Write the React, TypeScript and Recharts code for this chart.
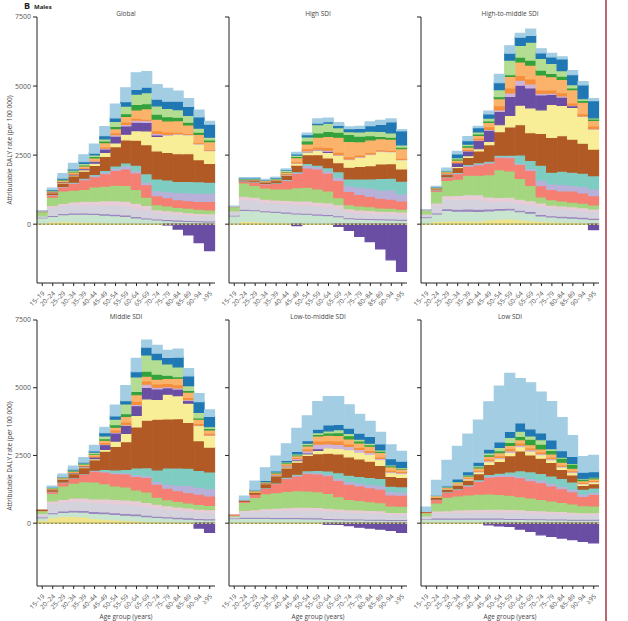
import React from 'react';
import { BarChart, Bar, XAxis, YAxis, ReferenceLine } from 'recharts';

const ageGroups = ['15–19', '20–24', '25–29', '30–34', '35–39', '40–44', '45–49', '50–54', '55–59', '60–64', '65–69', '70–74', '75–79', '80–84', '85–89', '90–94', '≥95'];

// stack order, bottom to top
const riskKeys = ['yellowLow', 'mint', 'violet', 'grey', 'pink', 'green', 'salmon', 'lavender', 'teal', 'brown', 'yellow', 'purple', 'lilac', 'orange', 'lightOrange', 'greenDark', 'lightGreen', 'blue', 'lightBlue'];
const riskColors = ['#efe48a', '#c8e5cf', '#9b86c0', '#d4d2dc', '#e8ccd6', '#a4d67f', '#f47f72', '#b7b0d9', '#7fcdc2', '#b15a25', '#f9ee98', '#6a4ea3', '#cfb3d8', '#f58f3a', '#fbb36b', '#33a23c', '#b3dd92', '#1f78b4', '#a3cde3'];

const yTicks = [0, 2500, 5000, 7500];

// one row per age group, one column per risk (riskKeys order)
const globalRates = [
  [30, 200, 20, 50, 0, 150, 10, 0, 0, 10, 0, 0, 0, 0, 0, 0, 0, 0, 10],
  [80, 200, 40, 300, 60, 300, 80, 10, 10, 60, 20, 10, 0, 10, 20, 10, 10, 30, 60],
  [90, 250, 50, 280, 80, 450, 150, 10, 10, 120, 20, 20, 0, 20, 40, 20, 20, 40, 160],
  [80, 280, 50, 300, 100, 420, 250, 20, 20, 230, 30, 30, 0, 30, 50, 30, 40, 40, 200],
  [70, 290, 50, 300, 120, 430, 350, 30, 30, 250, 50, 40, 10, 30, 60, 40, 50, 60, 250],
  [60, 290, 50, 300, 130, 520, 370, 40, 40, 330, 80, 60, 20, 30, 80, 50, 60, 60, 330],
  [50, 280, 50, 320, 150, 530, 450, 60, 60, 500, 150, 120, 30, 50, 150, 60, 80, 110, 330],
  [40, 270, 50, 330, 160, 560, 540, 80, 80, 700, 130, 250, 50, 70, 150, 80, 180, 130, 500],
  [35, 250, 50, 330, 170, 570, 600, 100, 110, 840, 200, 300, 60, 90, 200, 100, 270, 160, 500],
  [30, 200, 50, 300, 180, 500, 600, 80, 200, 900, 350, 300, 80, 70, 300, 200, 370, 170, 600],
  [20, 170, 40, 300, 150, 300, 450, 100, 300, 1050, 500, 300, 80, 40, 380, 180, 400, 200, 560],
  [15, 140, 40, 230, 100, 180, 330, 180, 420, 1020, 520, 60, 50, 100, 420, 180, 300, 240, 530],
  [10, 120, 40, 220, 100, 170, 300, 220, 420, 1000, 620, -30, 30, 90, 400, 150, 300, 260, 470],
  [10, 100, 40, 200, 100, 160, 280, 260, 400, 1000, 700, -180, 30, 50, 420, 120, 280, 300, 370],
  [10, 90, 40, 190, 90, 160, 270, 280, 420, 1000, 680, -390, 20, 40, 300, 100, 250, 320, 290],
  [10, 80, 40, 180, 80, 150, 280, 300, 420, 800, 560, -670, 20, 30, 300, 80, 150, 400, 250],
  [10, 70, 40, 180, 80, 140, 300, 300, 400, 680, 460, -960, 20, 30, 280, 60, 100, 470, 100],
];

const highSdiRates = [
  [40, 260, 30, 120, 30, 150, 10, 0, 0, 0, 0, 0, 0, 0, 0, 0, 0, 0, 10],
  [100, 400, 40, 350, 120, 480, 60, 10, 10, 20, 10, 10, 0, 10, 10, 10, 10, 20, 10],
  [90, 400, 40, 330, 120, 420, 120, 10, 10, 40, 10, 10, 0, 10, 20, 10, 10, 20, 10],
  [70, 380, 40, 300, 120, 400, 150, 10, 10, 50, 10, 10, 0, 10, 20, 10, 10, 10, 10],
  [60, 370, 40, 290, 120, 400, 200, 10, 10, 80, 10, 10, 0, 10, 20, 10, 20, 20, 20],
  [50, 350, 40, 300, 120, 420, 300, 20, 20, 150, 20, 20, 0, 20, 60, 20, 40, 20, 30],
  [40, 330, 40, 300, 130, 480, 520, 30, 30, 240, 60, -50, 20, 40, 150, 40, 50, 40, 60],
  [40, 320, 40, 300, 140, 500, 700, 100, 60, 320, 100, 10, 30, 70, 180, 100, 150, 80, 60],
  [30, 300, 40, 280, 150, 480, 720, 80, 60, 380, 150, 10, 40, 80, 350, 150, 300, 60, 150],
  [30, 280, 40, 280, 150, 420, 650, 80, 120, 350, 200, 40, 40, 100, 400, 180, 300, 50, 130],
  [20, 250, 40, 260, 140, 250, 620, 120, 200, 330, 260, -80, 30, 90, 540, 180, 160, 90, 100],
  [20, 180, 40, 200, 120, 150, 480, 200, 250, 420, 280, -230, 20, 80, 560, 250, 100, 110, 60],
  [20, 160, 40, 190, 110, 140, 420, 260, 300, 450, 330, -440, 20, 70, 480, 200, 150, 130, 70],
  [20, 150, 40, 180, 110, 130, 380, 300, 330, 480, 400, -630, 20, 60, 450, 150, 170, 200, 130],
  [20, 140, 40, 170, 100, 120, 350, 300, 420, 520, 450, -900, 20, 50, 400, 80, 180, 250, 150],
  [20, 130, 40, 170, 100, 120, 330, 330, 430, 520, 430, -1290, 20, 40, 400, 70, 150, 400, 110],
  [20, 120, 40, 160, 100, 100, 300, 260, 460, 440, 330, -1710, 20, 40, 340, 60, 80, 510, 40],
];

const highMiddleSdiRates = [
  [40, 200, 30, 80, 20, 130, 10, 0, 0, 0, 0, 0, 0, 0, 0, 0, 0, 0, 10],
  [100, 270, 40, 280, 80, 420, 40, 10, 10, 30, 10, 10, 0, 10, 10, 10, 10, 10, 20],
  [120, 380, 60, 350, 120, 550, 120, 10, 10, 80, 20, 20, 0, 20, 40, 10, 20, 20, 80],
  [120, 350, 70, 350, 150, 590, 200, 20, 20, 180, 40, 130, 0, 40, 60, 40, 50, 130, 100],
  [120, 350, 80, 350, 170, 700, 330, 30, 30, 260, 60, 170, 10, 50, 80, 50, 60, 120, 150],
  [110, 350, 80, 350, 180, 700, 380, 40, 40, 420, 80, 300, 20, 60, 100, 60, 70, 150, 50],
  [150, 330, 70, 280, 160, 800, 420, 30, 40, 600, 120, 400, 30, 100, 150, 60, 100, 150, 100],
  [180, 330, 60, 250, 150, 1000, 450, 30, 50, 850, 250, 480, 60, 150, 250, 80, 250, 250, 300],
  [190, 330, 60, 250, 150, 950, 480, 30, 60, 1020, 420, 690, 120, 180, 420, 60, 530, 250, 270],
  [150, 300, 60, 250, 150, 750, 500, 50, 300, 1090, 710, 720, 180, 180, 480, 180, 420, 300, 140],
  [120, 280, 60, 250, 140, 550, 550, 60, 300, 1000, 900, 720, 150, 180, 500, 180, 650, 240, 230],
  [100, 200, 50, 300, 120, 220, 400, 200, 550, 1150, 850, 540, 60, 120, 540, 180, 420, 200, 150],
  [80, 180, 50, 280, 100, 200, 370, 200, 420, 1260, 1200, 360, 40, 120, 480, 120, 360, 240, 120],
  [70, 170, 50, 270, 100, 180, 360, 240, 480, 1280, 1100, 300, 40, 120, 480, 120, 200, 420, 80],
  [60, 160, 50, 260, 100, 170, 400, 200, 480, 1200, 1150, 60, 20, 80, 480, 60, 120, 360, 150],
  [50, 150, 50, 250, 100, 160, 370, 240, 480, 1080, 970, 0, 20, 80, 420, 60, 60, 500, 120],
  [40, 130, 50, 240, 90, 150, 330, 250, 480, 960, 720, -200, 20, 100, 200, 50, 40, 620, 80],
];

const middleSdiRates = [
  [100, 100, 30, 100, 30, 100, 10, 0, 0, 10, 0, 0, 0, 0, 0, 0, 0, 0, 0],
  [200, 150, 40, 350, 80, 280, 60, 10, 10, 60, 10, 10, 0, 10, 20, 10, 20, 10, 40],
  [250, 150, 50, 330, 100, 500, 120, 10, 10, 100, 20, 10, 0, 10, 20, 10, 20, 20, 80],
  [250, 170, 60, 330, 120, 550, 180, 10, 10, 150, 20, 20, 0, 20, 30, 20, 20, 30, 120],
  [230, 180, 60, 330, 130, 600, 280, 10, 10, 220, 30, 30, 0, 20, 40, 20, 30, 30, 170],
  [180, 180, 70, 330, 140, 620, 400, 20, 20, 380, 40, 60, 0, 40, 60, 30, 50, 50, 200],
  [150, 200, 70, 330, 150, 560, 430, 30, 60, 680, 60, 180, 20, 60, 80, 60, 100, 120, 200],
  [120, 200, 70, 330, 160, 500, 450, 40, 100, 860, 200, 300, 30, 80, 100, 100, 200, 120, 400],
  [100, 200, 60, 340, 160, 480, 480, 40, 120, 1030, 300, 300, 30, 100, 200, 100, 360, 120, 560],
  [80, 200, 60, 330, 160, 400, 500, 60, 250, 1510, 430, 360, 40, 120, 240, 120, 540, 190, 490],
  [60, 180, 60, 320, 150, 380, 540, 60, 300, 1750, 790, 420, 120, 120, 180, 180, 600, 290, 260],
  [50, 160, 50, 300, 140, 260, 480, 100, 430, 1870, 730, 390, 60, 120, 180, 180, 540, 240, 280],
  [40, 150, 50, 280, 130, 220, 420, 150, 600, 1810, 910, 240, 40, 120, 180, 120, 420, 240, 260],
  [40, 130, 50, 260, 120, 200, 400, 200, 640, 1820, 850, 240, 40, 120, 240, 60, 360, 360, 300],
  [30, 120, 50, 250, 110, 190, 380, 260, 640, 1690, 710, 100, 30, 80, 200, 60, 180, 360, 270],
  [20, 110, 50, 240, 100, 170, 380, 260, 620, 1100, 550, -180, 20, 60, 160, 50, 200, 400, 290],
  [20, 100, 50, 230, 100, 160, 350, 260, 620, 920, 430, -340, 20, 60, 120, 60, 60, 380, 240],
];

const lowMiddleSdiRates = [
  [20, 150, 20, 50, 10, 40, 10, 0, 0, 0, 0, 0, 0, 0, 0, 0, 0, 0, 0],
  [30, 150, 40, 200, 50, 300, 40, 0, 0, 30, 10, 0, 0, 0, 10, 0, 0, 10, 130],
  [30, 150, 40, 220, 60, 450, 120, 0, 0, 80, 20, 0, 0, 10, 20, 10, 10, 10, 320],
  [30, 150, 40, 250, 70, 550, 200, 10, 10, 150, 20, 10, 0, 10, 20, 10, 10, 40, 460],
  [30, 140, 40, 260, 80, 580, 330, 10, 20, 260, 30, 10, 10, 20, 30, 20, 20, 40, 550],
  [30, 140, 40, 270, 90, 600, 480, 20, 30, 340, 40, 20, 20, 40, 40, 30, 30, 60, 610],
  [30, 140, 40, 280, 100, 610, 540, 30, 40, 440, 60, 30, 40, 50, 60, 30, 40, 90, 850],
  [30, 130, 40, 290, 100, 600, 650, 40, 60, 560, 60, 30, 80, 80, 100, 50, 50, 100, 910],
  [30, 130, 40, 280, 100, 580, 660, 50, 80, 620, 120, 60, 170, 120, 180, 60, 60, 130, 1020],
  [20, 120, 40, 270, 100, 550, 650, 60, 120, 650, 200, -40, 150, 120, 200, 80, 80, 220, 1040],
  [20, 110, 40, 260, 100, 450, 600, 80, 200, 700, 200, -50, 150, 130, 200, 100, 110, 200, 1020],
  [20, 100, 40, 250, 90, 380, 560, 100, 230, 680, 260, -90, 120, 100, 180, 120, 80, 200, 860],
  [20, 100, 40, 240, 90, 350, 540, 110, 240, 640, 250, -150, 100, 80, 160, 80, 60, 220, 700],
  [20, 90, 40, 230, 90, 320, 520, 120, 260, 600, 260, -180, 60, 80, 150, 60, 50, 250, 560],
  [20, 90, 40, 220, 90, 300, 500, 130, 260, 480, 220, -220, 40, 60, 160, 50, 40, 230, 420],
  [20, 80, 40, 180, 80, 240, 400, 130, 200, 360, 140, -270, 30, 60, 120, 40, 30, 230, 510],
  [20, 80, 40, 180, 80, 230, 400, 120, 200, 340, 140, -340, 30, 50, 90, 30, 30, 230, 360],
];

const lowSdiRates = [
  [30, 120, 20, 80, 20, 120, 20, 0, 0, 20, 0, 0, 0, 0, 0, 0, 0, 0, 160],
  [30, 120, 40, 200, 60, 300, 120, 10, 10, 60, 10, 0, 0, 10, 40, 0, 10, 10, 550],
  [30, 120, 40, 200, 70, 500, 180, 10, 10, 100, 20, 0, 10, 10, 30, 10, 10, 30, 940],
  [30, 120, 40, 220, 80, 520, 230, 10, 20, 140, 30, 0, 10, 20, 40, 10, 20, 90, 1210],
  [30, 120, 40, 220, 90, 540, 330, 20, 30, 170, 40, 0, 20, 30, 50, 20, 30, 120, 1390],
  [30, 120, 40, 230, 90, 560, 470, 30, 40, 220, 60, 0, 30, 40, 80, 40, 40, 130, 1550],
  [30, 120, 40, 230, 100, 560, 620, 40, 60, 370, 100, -60, 40, 60, 100, 60, 60, 140, 1750],
  [30, 120, 40, 230, 100, 540, 670, 50, 70, 430, 100, -100, 50, 60, 110, 80, 120, 200, 2060],
  [30, 110, 40, 230, 100, 520, 700, 60, 100, 600, 120, -120, 60, 80, 120, 110, 190, 220, 2140],
  [30, 110, 40, 220, 100, 480, 700, 60, 200, 730, 150, -220, 60, 80, 120, 120, 200, 300, 1640],
  [30, 100, 40, 210, 90, 460, 640, 80, 250, 620, 140, -300, 50, 70, 120, 200, 120, 260, 1700],
  [30, 100, 40, 200, 90, 420, 620, 90, 250, 560, 130, -430, 40, 60, 110, 180, 160, 250, 1510],
  [30, 90, 40, 200, 80, 380, 560, 100, 260, 500, 100, -490, 40, 60, 120, 130, 60, 320, 1420],
  [30, 90, 40, 190, 80, 340, 500, 100, 280, 330, 90, -550, 30, 50, 100, 150, 40, 240, 1220],
  [30, 80, 40, 180, 80, 300, 450, 100, 260, 260, 90, -610, 30, 40, 90, 150, 30, 250, 770],
  [30, 80, 40, 170, 70, 260, 340, 90, 180, 130, 60, -670, 20, 40, 60, 50, 20, 240, 580],
  [30, 80, 40, 170, 70, 250, 420, 80, 160, 160, 60, -730, 20, 40, 60, 40, 20, 200, 600],
];

const panelTitles = ['Global', 'High SDI', 'High-to-middle SDI', 'Middle SDI', 'Low-to-middle SDI', 'Low SDI'];
const panelRates = [globalRates, highSdiRates, highMiddleSdiRates, middleSdiRates, lowMiddleSdiRates, lowSdiRates];

const FONT = "'Open Sans', 'Liberation Sans', sans-serif";
const COL_X = [37, 229, 421];
const ROW_Y = [17, 320];
const ROW_MIN = [-2130, -2320];
const PLOT_W = 178;
const PLOT_H = 266;
const AXIS_W = 40;

const AgeTick = (props: any) => {
  const { x, y, payload } = props;
  return (
    <g transform={`translate(${x},${y + 3})`}>
      <text transform="rotate(-45)" textAnchor="end" dy={4} fontSize={6.5} fill="#555" fontFamily={FONT}>
        {payload.value}
      </text>
    </g>
  );
};

const Panel = ({ idx }: { idx: number }) => {
  const col = idx % 3;
  const row = Math.floor(idx / 3);
  const rates = panelRates[idx];
  const data = ageGroups.map((age, i) => {
    const rec: Record<string, string | number> = { age };
    riskKeys.forEach((k, j) => {
      rec[k] = rates[i][j];
    });
    return rec;
  });

  return (
    <div style={{ position: 'absolute', left: COL_X[col] - AXIS_W, top: ROW_Y[row] - 8 }}>
      <BarChart
        width={AXIS_W + PLOT_W + 4}
        height={8 + PLOT_H + 32}
        data={data}
        margin={{ top: 8, right: 4, bottom: 0, left: 0 }}
        barCategoryGap={0}
        barGap={0}
        stackOffset="sign"
      >
        <XAxis
          dataKey="age"
          interval={0}
          height={32}
          tick={<AgeTick />}
          tickSize={3}
          axisLine={{ stroke: '#222' }}
          tickLine={{ stroke: '#222' }}
        />
        <YAxis
          type="number"
          domain={[ROW_MIN[row], 7500]}
          allowDataOverflow
          ticks={yTicks}
          width={AXIS_W}
          tickSize={4}
          axisLine={{ stroke: '#222' }}
          tickLine={{ stroke: '#222' }}
          tick={{ fontSize: 7, fill: '#555', fontFamily: FONT }}
          tickFormatter={(v: number) => (col === 0 ? String(v) : '')}
        />
        {riskKeys.map((k, j) => (
          <Bar
            key={k}
            dataKey={k}
            stackId="a"
            fill={riskColors[j]}
            stroke={riskColors[j]}
            strokeWidth={1.2}
            isAnimationActive={false}
          />
        ))}
        <ReferenceLine y={0} stroke="#6f6a3c" strokeWidth={1} />
        <ReferenceLine y={0} stroke="#f3ec9a" strokeWidth={1} strokeDasharray="2 2" />
      </BarChart>
    </div>
  );
};

export default function App() {
  return (
    <div style={{ position: 'absolute', left: 0, top: 0, width: 628, height: 621, background: '#fff', overflow: 'hidden' }}>
      {panelTitles.map((_, i) => (
        <Panel key={i} idx={i} />
      ))}
      <svg width={628} height={621} style={{ position: 'absolute', left: 0, top: 0, pointerEvents: 'none' }}>
        <text x={24} y={9} fontSize={9} fontWeight={700} fill="#222" fontFamily={FONT}>B</text>
        <text x={34} y={8.5} fontSize={6} fontWeight={700} fill="#222" fontFamily={FONT}>Males</text>
        {panelTitles.map((t, i) => (
          <text
            key={t}
            x={COL_X[i % 3] + PLOT_W / 2}
            y={ROW_Y[Math.floor(i / 3)] - 1}
            textAnchor="middle"
            fontSize={6.5}
            fill="#444"
            fontFamily={FONT}
          >
            {t}
          </text>
        ))}
        {[150, 456].map((cy) => (
          <text
            key={cy}
            x={0}
            y={0}
            transform={`translate(12,${cy}) rotate(-90)`}
            textAnchor="middle"
            fontSize={6.5}
            fill="#444"
            fontFamily={FONT}
          >
            Attributable DALY rate (per 100 000)
          </text>
        ))}
        {COL_X.map((x0) => (
          <text key={x0} x={x0 + PLOT_W / 2} y={619} textAnchor="middle" fontSize={6.5} fill="#444" fontFamily={FONT}>
            Age group (years)
          </text>
        ))}
        <line x1={606} y1={0} x2={606} y2={621} stroke="#a5343f" strokeWidth={1.5} />
      </svg>
    </div>
  );
}
